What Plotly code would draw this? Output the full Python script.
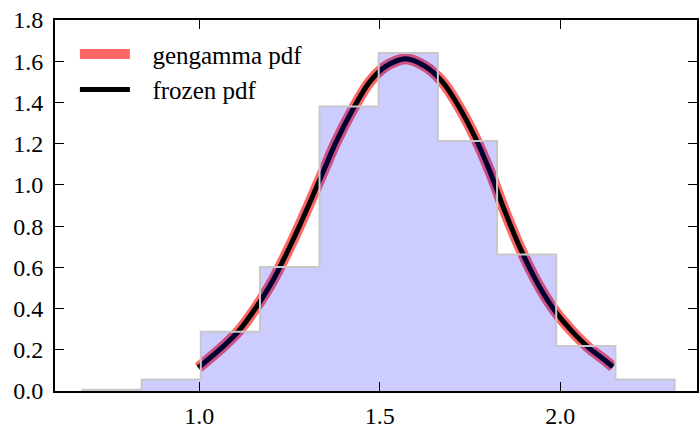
import plotly.graph_objects as go

# Histogram (density)
bin_edges = [0.676, 0.840, 1.004, 1.168, 1.333, 1.497, 1.661, 1.825, 1.989, 2.153, 2.317]
bin_heights = [0.006, 0.056, 0.288, 0.602, 1.380, 1.640, 1.213, 0.662, 0.218, 0.056]

# pdf curve
curve_x = [0.997, 1.064, 1.110, 1.157, 1.203, 1.249, 1.295, 1.341, 1.378, 1.423, 1.470,
           1.516, 1.571, 1.626, 1.672, 1.718, 1.764, 1.805, 1.847, 1.893, 1.939, 1.985,
           2.031, 2.077, 2.124, 2.146]
curve_y = [0.113, 0.213, 0.293, 0.405, 0.534, 0.694, 0.870, 1.055, 1.205, 1.359, 1.495,
           1.575, 1.612, 1.575, 1.503, 1.383, 1.231, 1.066, 0.870, 0.678, 0.517, 0.389,
           0.293, 0.213, 0.149, 0.117]

x_ticks = [1.0, 1.5, 2.0]
y_ticks = [0.0, 0.2, 0.4, 0.6, 0.8, 1.0, 1.2, 1.4, 1.6, 1.8]

FONT = "Liberation Serif"
GAP = "\u2002\u2009"

hist_x = [bin_edges[0]] + bin_edges
hist_y = [0] + bin_heights + [0]

fig = go.Figure()
fig.add_trace(go.Scatter(x=curve_x, y=curve_y, mode="lines", name=GAP + "gengamma pdf",
                         legendgroup="a",
                         line=dict(color="rgba(255,0,0,0.6)", width=11, shape="spline",
                                   smoothing=0.8)))
fig.add_trace(go.Scatter(x=curve_x, y=curve_y, mode="lines", name=GAP + "frozen pdf",
                         legendgroup="b",
                         line=dict(color="black", width=5, shape="spline", smoothing=0.8)))
fig.add_trace(go.Scatter(x=hist_x, y=hist_y, mode="lines", fill="toself",
                         fillcolor="rgba(0,0,255,0.2)", showlegend=False,
                         line=dict(color="rgb(200,200,200)", width=2, shape="hv")))

fig.update_layout(
    width=699, height=429,
    margin=dict(l=55, r=0, t=20, b=35),
    plot_bgcolor="white", paper_bgcolor="white",
    font=dict(family=FONT, size=24, color="black"),
    showlegend=True,
    legend=dict(x=0.031, y=0.97, xanchor="left", yanchor="top",
                bgcolor="rgba(0,0,0,0)", itemwidth=50,
                traceorder="grouped", tracegroupgap=0,
                font=dict(family=FONT, size=25)),
    xaxis=dict(range=[0.6, 2.379], tickvals=x_ticks, ticktext=[f"{v:.1f}" for v in x_ticks],
               ticks="inside", ticklen=9, tickwidth=1, tickcolor="black",
               showline=True, linecolor="black", linewidth=2, mirror="ticks",
               showgrid=False, zeroline=False, ticklabelstandoff=2),
    yaxis=dict(range=[0, 1.8], tickvals=y_ticks, ticktext=[f"{v:.1f}" for v in y_ticks],
               ticks="inside", ticklen=9, tickwidth=1, tickcolor="black",
               showline=True, linecolor="black", linewidth=2, mirror="ticks",
               showgrid=False, zeroline=False, ticklabelstandoff=5),
)

fig.write_html("out.html", config={"displayModeBar": False},
               post_script="document.body.style.margin='0';")
